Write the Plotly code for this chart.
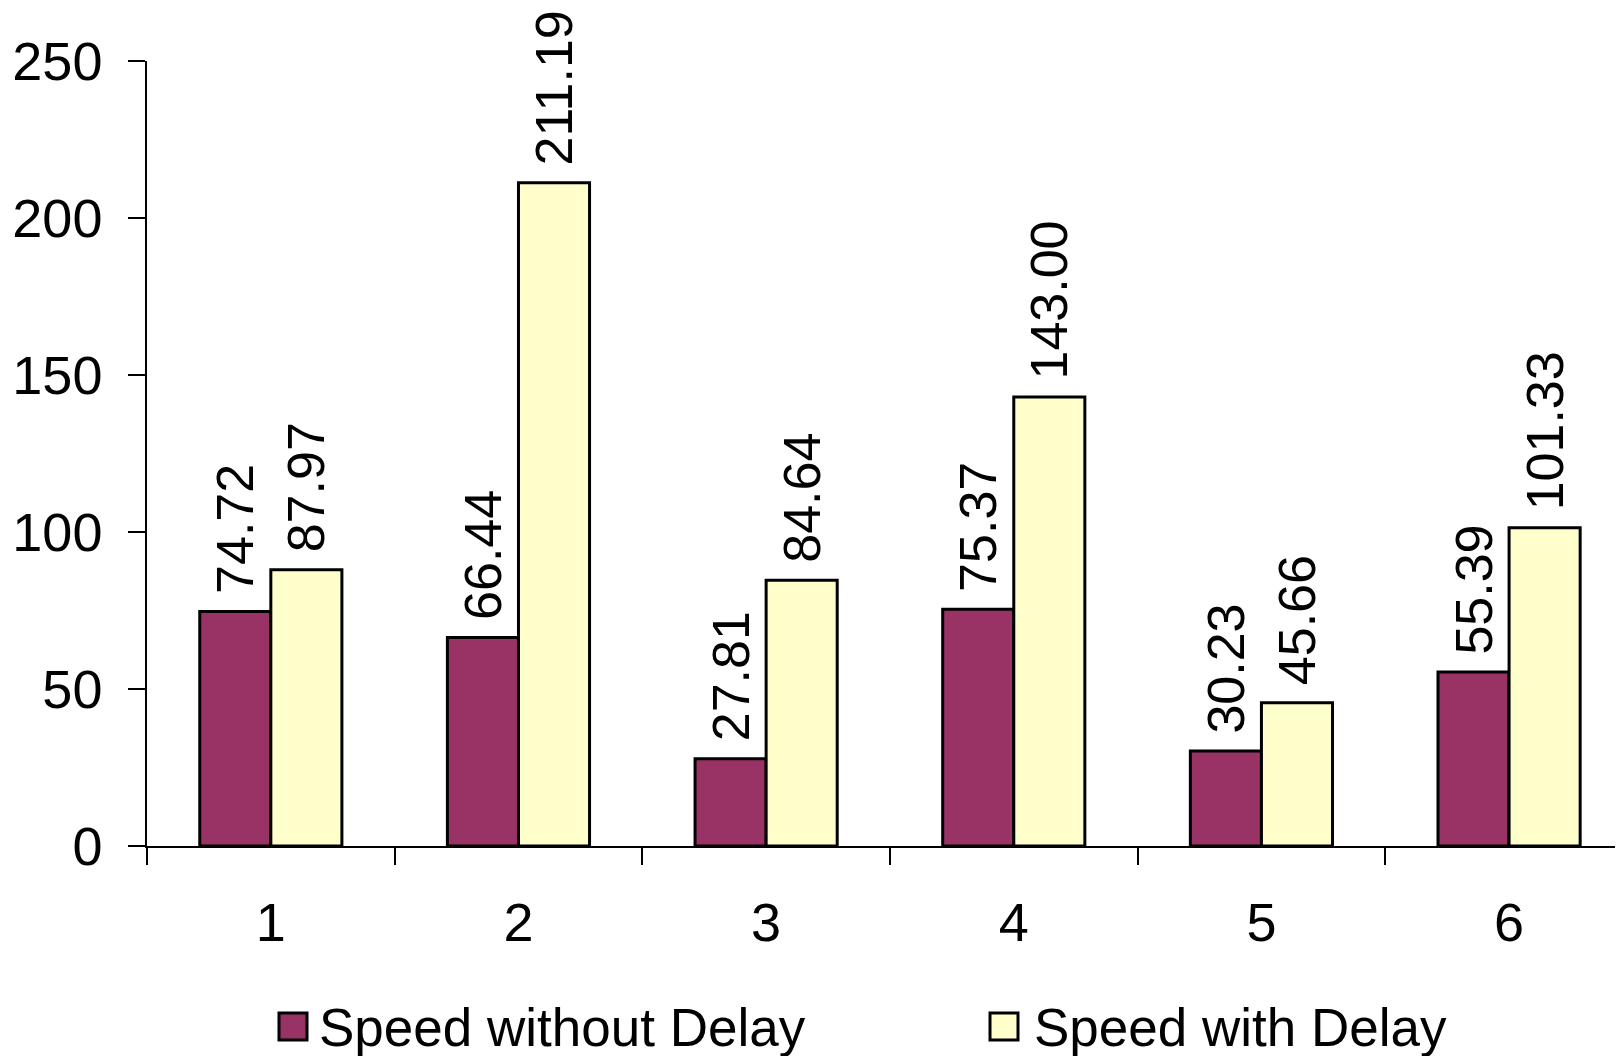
import plotly.graph_objects as go

categories = ["1", "2", "3", "4", "5", "6"]
speed_without_delay = [74.72, 66.44, 27.81, 75.37, 30.23, 55.39]
speed_with_delay = [87.97, 211.19, 84.64, 143.00, 45.66, 101.33]
series_names = ["Speed without Delay", "Speed with Delay"]
series_colors = ["#993366", "#FFFFCC"]
y_ticks = [0, 50, 100, 150, 200, 250]

# page body has an 8px default margin; compensate so the plot lands at screen coords
OFF = 8
W, H = 1623 - OFF, 1056 - OFF
L, R, T, B = 147 - OFF, 0, 61 - OFF, 210
FONT = "Liberation Sans, Arial, sans-serif"

fig = go.Figure()
for name, vals, col in zip(series_names, [speed_without_delay, speed_with_delay], series_colors):
    fig.add_trace(go.Bar(
        x=categories, y=vals, name=name,
        marker=dict(color=col, line=dict(color="black", width=3)),
        texttemplate="\u00a0%{y:.2f}", textposition="outside", textangle=-90,
        textfont=dict(family=FONT, size=52, color="black"),
        constraintext="none", cliponaxis=False, showlegend=False,
    ))

pw = W - L - R
ph = H - T - B
def px(X):  # screen x -> paper
    return (X - OFF - L) / pw
def py(Y):  # screen y -> paper
    return (H - B - (Y - OFF)) / ph

shapes = []
annotations = []
legend_items = [(279, 317), (990, 1032)]
for (mx, tx), name, col in zip(legend_items, series_names, series_colors):
    shapes.append(dict(type="rect", xref="paper", yref="paper",
                       x0=px(mx), x1=px(mx + 28), y0=py(1040), y1=py(1013),
                       fillcolor=col, line=dict(color="black", width=3)))
    annotations.append(dict(xref="paper", yref="paper", x=px(tx), y=py(1027),
                            xanchor="left", yanchor="middle", showarrow=False,
                            text=name, font=dict(family=FONT, size=53, color="black")))

fig.update_layout(
    width=W, height=H,
    margin=dict(l=L, r=R, t=T, b=B, pad=0),
    paper_bgcolor="white", plot_bgcolor="white",
    barmode="group", bargap=0.426, bargroupgap=0,
    font=dict(family=FONT, size=54, color="black"),
    shapes=shapes, annotations=annotations,
    xaxis=dict(type="category", range=[-0.5, 5.46], tickson="boundaries",
               ticks="outside", ticklen=17, tickwidth=1.5, tickcolor="black",
               showline=True, linecolor="black", linewidth=1.5, showgrid=False,
               tickfont=dict(family=FONT, size=54), ticklabelstandoff=28),
    yaxis=dict(range=[0, 250], tickvals=y_ticks, ticks="outside", ticklen=17,
               tickwidth=1.5, tickcolor="black", showline=True, linecolor="black",
               linewidth=1.5, showgrid=False, zeroline=False,
               tickfont=dict(family=FONT, size=54), ticklabelstandoff=15),
)

fig.write_html("out.html")
